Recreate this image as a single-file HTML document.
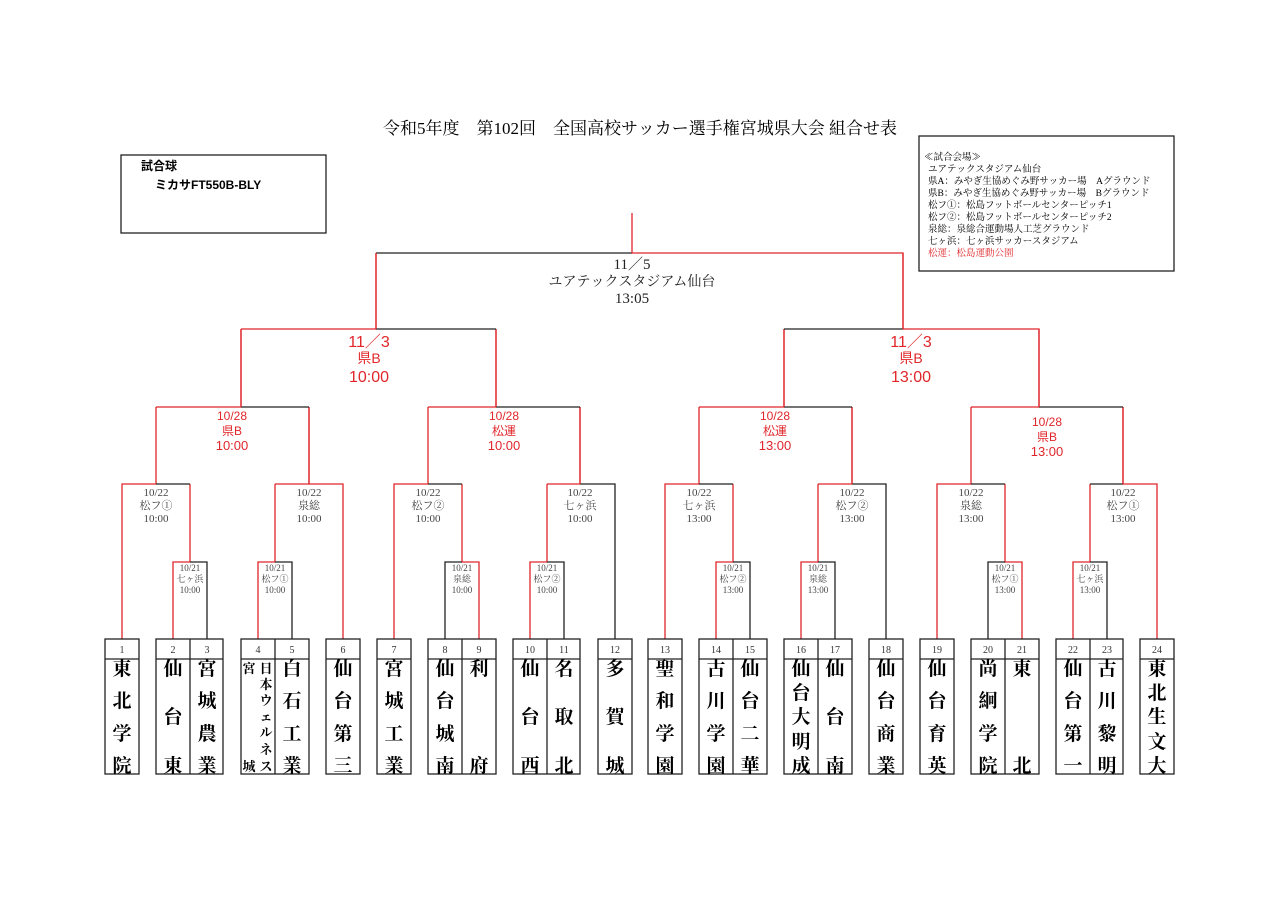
<!DOCTYPE html>
<html><head><meta charset="utf-8"><style>
html,body{margin:0;padding:0;background:#fff;}
svg{display:block;}
text{font-family:"Liberation Serif","Noto Serif CJK SC","Noto Sans CJK JP",serif;}
.s text, text.s{font-family:"Liberation Sans","Noto Sans CJK JP",sans-serif;}
.t{font-weight:bold;font-size:19px;text-anchor:middle;}
.n{font-size:10px;text-anchor:middle;fill:#333;}
.l2{font-size:11px;text-anchor:middle;fill:#444;}
.l1{font-size:9px;text-anchor:middle;fill:#444;}
.r{stroke:#e0262a;stroke-width:1.3;fill:none;}
.k{stroke:#222;stroke-width:1.3;fill:none;}
</style></head><body>
<svg width="1280" height="905" viewBox="0 0 1280 905" xmlns="http://www.w3.org/2000/svg">
<text x="640" y="134" font-size="17" text-anchor="middle">令和5年度　第102回　全国高校サッカー選手権宮城県大会 組合せ表</text>
<rect x="121" y="155" width="205" height="78" class="k"/>
<text x="141" y="170" font-size="12" class="s" font-weight="bold">試合球</text>
<text x="155" y="189" font-size="12" class="s" font-weight="bold">ミカサFT550B-BLY</text>
<rect x="919" y="136" width="255" height="135" class="k"/>
<g font-size="9.5">
<text x="924" y="160">≪試合会場≫</text>
<text x="928" y="172">ユアテックスタジアム仙台</text>
<text x="928" y="184">県A：みやぎ生協めぐみ野サッカー場　Aグラウンド</text>
<text x="928" y="196">県B：みやぎ生協めぐみ野サッカー場　Bグラウンド</text>
<text x="928" y="208">松フ①：松島フットボールセンターピッチ1</text>
<text x="928" y="220">松フ②：松島フットボールセンターピッチ2</text>
<text x="928" y="232">泉総：泉総合運動場人工芝グラウンド</text>
<text x="928" y="244">七ヶ浜：七ヶ浜サッカースタジアム</text>
<text x="928" y="256" fill="#e0262a">松運：松島運動公園</text>
</g>
<g>
<path class="r" d="M173 639V562H190M190 562V484M258 639V562H275V484M479 639V562H462V484M530 639V562H547V484M716 639V562H733V484M801 639V562H818V484M1022 639V562H1005V484M1073 639V562H1090V484"/>
<path class="k" d="M207 639V562H190M292 639V562H275M445 639V562H462M564 639V562H547M750 639V562H733M835 639V562H818M988 639V562H1005M1107 639V562H1090"/>
<path class="r" d="M122 639V484H156V407M343 639V484H275M309 484V407M394 639V484H428V407M580 484V407M547 484H580M665 639V484H699V407M852 484V407M818 484H852M937 639V484H971V407M1157 639V484H1123V407"/>
<path class="k" d="M156 484H190M428 484H462M580 484H615V639M699 484H733M852 484H886V639M971 484H1005M1090 484H1123"/>
<path class="r" d="M156 407H241V329M309 484V407M428 407H496V329M580 407V484M699 407H784V329M852 407V484M971 407H1039V329M1123 407V484"/>
<path class="k" d="M241 407H309M496 407H580M784 407H852M1039 407H1123"/>
<path class="r" d="M241 329H376V253M496 329V407M784 329V407M903 329H1039V407M903 329V253M241 329V407M1039 329V407"/>
<path class="k" d="M376 329H496M784 329H903"/>
<path class="k" d="M376 253H632"/>
<path class="r" d="M632 253H903V329M376 253V329M632 253V213"/>
</g>
<g font-size="15" fill="#222" text-anchor="middle">
<text x="632" y="269">11／5</text>
<text x="632" y="286" font-size="14">ユアテックスタジアム仙台</text>
<text x="632" y="303">13:05</text>
</g>
<g class="s" fill="#e0262a" text-anchor="middle">
<text x="369" y="347" font-size="16">11／3</text><text x="369" y="363" font-size="14">県B</text><text x="369" y="382" font-size="16">10:00</text>
<text x="911" y="347" font-size="16">11／3</text><text x="911" y="363" font-size="14">県B</text><text x="911" y="382" font-size="16">13:00</text>
<text x="232" y="420" font-size="12">10/28</text><text x="232" y="435" font-size="12">県B</text><text x="232" y="450" font-size="13">10:00</text>
<text x="504" y="420" font-size="12">10/28</text><text x="504" y="435" font-size="12">松運</text><text x="504" y="450" font-size="13">10:00</text>
<text x="775" y="420" font-size="12">10/28</text><text x="775" y="435" font-size="12">松運</text><text x="775" y="450" font-size="13">13:00</text>
<text x="1047" y="426" font-size="12">10/28</text><text x="1047" y="441" font-size="12">県B</text><text x="1047" y="456" font-size="13">13:00</text>
</g>
<g class="l2">
<text x="156" y="496">10/22</text><text x="156" y="509">松フ①</text><text x="156" y="522">10:00</text>
<text x="309" y="496">10/22</text><text x="309" y="509">泉総</text><text x="309" y="522">10:00</text>
<text x="428" y="496">10/22</text><text x="428" y="509">松フ②</text><text x="428" y="522">10:00</text>
<text x="580" y="496">10/22</text><text x="580" y="509">七ヶ浜</text><text x="580" y="522">10:00</text>
<text x="699" y="496">10/22</text><text x="699" y="509">七ヶ浜</text><text x="699" y="522">13:00</text>
<text x="852" y="496">10/22</text><text x="852" y="509">松フ②</text><text x="852" y="522">13:00</text>
<text x="971" y="496">10/22</text><text x="971" y="509">泉総</text><text x="971" y="522">13:00</text>
<text x="1123" y="496">10/22</text><text x="1123" y="509">松フ①</text><text x="1123" y="522">13:00</text>
</g>
<g class="l1">
<text x="190" y="571">10/21</text><text x="190" y="582">七ヶ浜</text><text x="190" y="593">10:00</text>
<text x="275" y="571">10/21</text><text x="275" y="582">松フ①</text><text x="275" y="593">10:00</text>
<text x="462" y="571">10/21</text><text x="462" y="582">泉総</text><text x="462" y="593">10:00</text>
<text x="547" y="571">10/21</text><text x="547" y="582">松フ②</text><text x="547" y="593">10:00</text>
<text x="733" y="571">10/21</text><text x="733" y="582">松フ②</text><text x="733" y="593">13:00</text>
<text x="818" y="571">10/21</text><text x="818" y="582">泉総</text><text x="818" y="593">13:00</text>
<text x="1005" y="571">10/21</text><text x="1005" y="582">松フ①</text><text x="1005" y="593">13:00</text>
<text x="1090" y="571">10/21</text><text x="1090" y="582">七ヶ浜</text><text x="1090" y="593">13:00</text>
</g>
<g class="k">
<rect x="105" y="639" width="34" height="135"/>
<rect x="156" y="639" width="67" height="135"/><path d="M190 639V774"/>
<rect x="241" y="639" width="68" height="135"/><path d="M275 639V774"/>
<rect x="326" y="639" width="34" height="135"/>
<rect x="377" y="639" width="34" height="135"/>
<rect x="428" y="639" width="68" height="135"/><path d="M462 639V774"/>
<rect x="513" y="639" width="67" height="135"/><path d="M547 639V774"/>
<rect x="598" y="639" width="34" height="135"/>
<rect x="648" y="639" width="34" height="135"/>
<rect x="699" y="639" width="68" height="135"/><path d="M733 639V774"/>
<rect x="784" y="639" width="68" height="135"/><path d="M818 639V774"/>
<rect x="869" y="639" width="34" height="135"/>
<rect x="920" y="639" width="34" height="135"/>
<rect x="971" y="639" width="68" height="135"/><path d="M1005 639V774"/>
<rect x="1056" y="639" width="67" height="135"/><path d="M1090 639V774"/>
<rect x="1140" y="639" width="34" height="135"/>
<path d="M105 659H139M156 659H223M241 659H309M326 659H360M377 659H411M428 659H496M513 659H580M598 659H632M648 659H682M699 659H767M784 659H852M869 659H903M920 659H954M971 659H1039M1056 659H1123M1140 659H1174"/>
</g>
<g class="n">
<text x="122" y="653">1</text><text x="173" y="653">2</text><text x="207" y="653">3</text><text x="258" y="653">4</text><text x="292" y="653">5</text><text x="343" y="653">6</text><text x="394" y="653">7</text><text x="445" y="653">8</text><text x="479" y="653">9</text><text x="530" y="653">10</text><text x="564" y="653">11</text><text x="615" y="653">12</text>
<text x="665" y="653">13</text><text x="716" y="653">14</text><text x="750" y="653">15</text><text x="801" y="653">16</text><text x="835" y="653">17</text><text x="886" y="653">18</text><text x="937" y="653">19</text><text x="988" y="653">20</text><text x="1022" y="653">21</text><text x="1073" y="653">22</text><text x="1107" y="653">23</text><text x="1157" y="653">24</text>
</g>
<g class="t">
<text x="122" y="675">東</text><text x="122" y="707">北</text><text x="122" y="740">学</text><text x="122" y="772">院</text>
<text x="173" y="675">仙</text><text x="173" y="723">台</text><text x="173" y="772">東</text>
<text x="207" y="675">宮</text><text x="207" y="707">城</text><text x="207" y="740">農</text><text x="207" y="772">業</text>
<text x="292" y="675">白</text><text x="292" y="707">石</text><text x="292" y="740">工</text><text x="292" y="772">業</text>
<text x="343" y="675">仙</text><text x="343" y="707">台</text><text x="343" y="740">第</text><text x="343" y="772">三</text>
<text x="394" y="675">宮</text><text x="394" y="707">城</text><text x="394" y="740">工</text><text x="394" y="772">業</text>
<text x="445" y="675">仙</text><text x="445" y="707">台</text><text x="445" y="740">城</text><text x="445" y="772">南</text>
<text x="479" y="675">利</text><text x="479" y="772">府</text>
<text x="530" y="675">仙</text><text x="530" y="723">台</text><text x="530" y="772">西</text>
<text x="564" y="675">名</text><text x="564" y="723">取</text><text x="564" y="772">北</text>
<text x="615" y="675">多</text><text x="615" y="723">賀</text><text x="615" y="772">城</text>
<text x="665" y="675">聖</text><text x="665" y="707">和</text><text x="665" y="740">学</text><text x="665" y="772">園</text>
<text x="716" y="675">古</text><text x="716" y="707">川</text><text x="716" y="740">学</text><text x="716" y="772">園</text>
<text x="750" y="675">仙</text><text x="750" y="707">台</text><text x="750" y="740">二</text><text x="750" y="772">華</text>
<text x="801" y="675">仙</text><text x="801" y="699">台</text><text x="801" y="723">大</text><text x="801" y="748">明</text><text x="801" y="772">成</text>
<text x="835" y="675">仙</text><text x="835" y="723">台</text><text x="835" y="772">南</text>
<text x="886" y="675">仙</text><text x="886" y="707">台</text><text x="886" y="740">商</text><text x="886" y="772">業</text>
<text x="937" y="675">仙</text><text x="937" y="707">台</text><text x="937" y="740">育</text><text x="937" y="772">英</text>
<text x="988" y="675">尚</text><text x="988" y="707">絅</text><text x="988" y="740">学</text><text x="988" y="772">院</text>
<text x="1022" y="675">東</text><text x="1022" y="772">北</text>
<text x="1073" y="675">仙</text><text x="1073" y="707">台</text><text x="1073" y="740">第</text><text x="1073" y="772">一</text>
<text x="1107" y="675">古</text><text x="1107" y="707">川</text><text x="1107" y="740">黎</text><text x="1107" y="772">明</text>
<text x="1157" y="675">東</text><text x="1157" y="699">北</text><text x="1157" y="723">生</text><text x="1157" y="748">文</text><text x="1157" y="772">大</text>
</g>
<g font-weight="bold" font-size="13" text-anchor="middle">
<text x="249" y="673">宮</text><text x="249" y="771">城</text>
<text x="266" y="673">日</text><text x="266" y="689">本</text><text x="266" y="705">ウ</text><text x="266" y="721">ェ</text><text x="266" y="737">ル</text><text x="266" y="754">ネ</text><text x="266" y="771">ス</text>
</g>
</svg>
</body></html>
